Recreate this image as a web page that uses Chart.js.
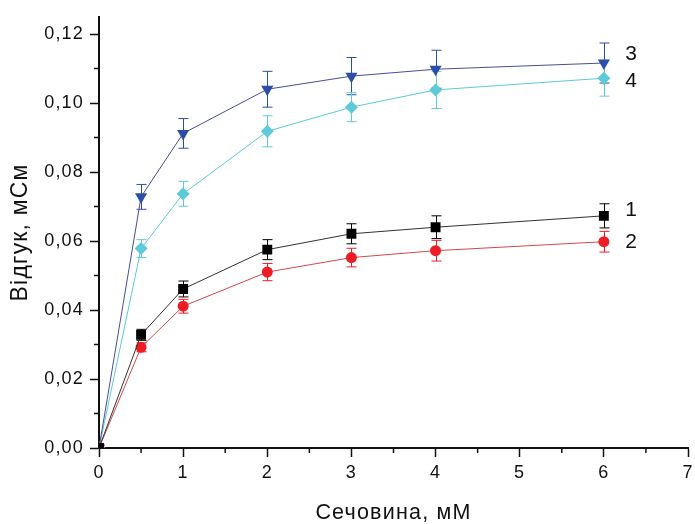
<!DOCTYPE html>
<html>
<head>
<meta charset="utf-8">
<script src="https://cdn.jsdelivr.net/npm/chart.js@4"></script>
<style>
    html, body { margin: 0; padding: 0; background: #fff; overflow: hidden; }
    #wrap { position: relative; width: 695px; height: 524px; }
</style>
</head>
<body>
<div id="wrap"><canvas id="ureaChart"></canvas></div>
<script>
Chart.defaults.font.family = '"Liberation Sans", Arial, sans-serif';
Chart.defaults.color = '#111';

// ── Data ──────────────────────────────────────────────────────────
const conc = [0, 0.5, 1, 2, 3, 4, 6];

const resp1 = [0, 0.0328, 0.0461, 0.0575, 0.0621, 0.0640, 0.0673];
const err1 = [0, 0.0016, 0.0023, 0.0029, 0.0029, 0.0033, 0.0035];
const resp2 = [0, 0.0292, 0.0411, 0.0510, 0.0552, 0.0572, 0.0598];
const err2 = [0, 0.0013, 0.0020, 0.0025, 0.0027, 0.0030, 0.0030];
const resp3 = [0, 0.0728, 0.0912, 0.1040, 0.1078, 0.1098, 0.1116];
const err3 = [0, 0.0036, 0.0043, 0.0052, 0.0054, 0.0055, 0.0058];
const resp4 = [0, 0.0578, 0.0737, 0.0918, 0.0988, 0.1038, 0.1072];
const err4 = [0, 0.0026, 0.0036, 0.0045, 0.0042, 0.0054, 0.0052];

const curveNames = ['1', '2', '3', '4'];
const nameX = [6.33, 6.33, 6.33, 6.33];
const nameY = [0.0688, 0.0596, 0.1142, 0.1062];

const xMajor = [0, 1, 2, 3, 4, 5, 6, 7];
const xMinor = [0.5, 1.5, 2.5, 3.5, 4.5, 5.5, 6.5];
const yMajor = [0, 0.02, 0.04, 0.06, 0.08, 0.10, 0.12];
const yMinor = [0.01, 0.03, 0.05, 0.07, 0.09, 0.11];

const toXY = (vals) => vals.map((v, i) => ({ x: conc[i], y: v }));

const series = (vals, errs, color, lineColor, style, radius, rotation) => ({
    data: toXY(vals),
    errors: errs,
    borderColor: lineColor,
    backgroundColor: color,
    pointBackgroundColor: color,
    pointBorderColor: color,
    pointStyle: style,
    pointRadius: radius,
    pointRotation: rotation || 0,
    pointBorderWidth: 0,
    borderWidth: 1,
    tension: 0,
    fill: false,
});

// ── Error bars, minor ticks, curve numbers ───────────────────────
const extras = {
    id: 'extras',
    beforeDraw(chart) {
        // the labels are set a little wider than plain Arial
        chart.ctx.letterSpacing = '1.2px';
    },
    beforeDatasetsDraw(chart) {
        const ctx = chart.ctx;
        const xs = chart.scales.x, ys = chart.scales.y;
        ctx.save();
        ctx.lineWidth = 1;
        chart.data.datasets.forEach((ds) => {
            ctx.strokeStyle = ds.backgroundColor;
            ds.data.forEach((p, i) => {
                const e = ds.errors[i];
                if (!e) return;
                const px = Math.round(xs.getPixelForValue(p.x)) + 0.5;
                const top = ys.getPixelForValue(p.y + e);
                const bot = ys.getPixelForValue(p.y - e);
                ctx.beginPath();
                ctx.moveTo(px, top); ctx.lineTo(px, bot);
                ctx.moveTo(px - 5, top); ctx.lineTo(px + 5, top);
                ctx.moveTo(px - 5, bot); ctx.lineTo(px + 5, bot);
                ctx.stroke();
            });
        });
        ctx.restore();
    },
    afterDraw(chart) {
        const ctx = chart.ctx;
        const xs = chart.scales.x, ys = chart.scales.y;
        const area = chart.chartArea;
        ctx.save();
        ctx.strokeStyle = '#111';
        ctx.lineWidth = 1.5;
        ctx.beginPath();
        xMinor.forEach((v) => {
            const px = xs.getPixelForValue(v);
            ctx.moveTo(px, area.bottom); ctx.lineTo(px, area.bottom + 5);
        });
        yMinor.forEach((v) => {
            const py = ys.getPixelForValue(v);
            ctx.moveTo(area.left, py); ctx.lineTo(area.left - 5, py);
        });
        ctx.stroke();

        ctx.fillStyle = '#111';
        ctx.font = '21px "Liberation Sans", Arial, sans-serif';
        ctx.textAlign = 'center';
        ctx.textBaseline = 'middle';
        curveNames.forEach((t, i) => {
            ctx.fillText(t, xs.getPixelForValue(nameX[i]), ys.getPixelForValue(nameY[i]));
        });
        ctx.restore();
    }
};

const fmt = (v) => v.toFixed(2).replace('.', ',');

new Chart(document.getElementById('ureaChart'), {
    type: 'line',
    data: {
        datasets: [
            series(resp1, err1, '#000000', '#333333', 'rect', 7),
            series(resp2, err2, '#ee1c25', '#d9464c', 'circle', 5.5),
            series(resp3, err3, '#2d4ea6', '#4a4c9c', 'triangle', 7, 180),
            series(resp4, err4, '#5ccad8', '#5ccad8', 'rectRot', 6.5),
        ]
    },
    options: {
        responsive: true,
        maintainAspectRatio: false,
        animation: false,
        layout: { padding: { top: 15, right: 4, left: 0, bottom: 0 } },
        plugins: { legend: { display: false }, tooltip: { enabled: false } },
        scales: {
            x: {
                type: 'linear',
                min: 0, max: 7,
                afterBuildTicks: (s) => { s.ticks = xMajor.map((v) => ({ value: v })); },
                afterFit: (s) => { s.height = 76; s.paddingRight = 0; s.paddingLeft = 0; },
                grid: { display: true, drawOnChartArea: false, drawTicks: true, tickLength: 9, tickWidth: 1.5, tickColor: '#111' },
                border: { display: true, color: '#111', width: 2 },
                ticks: { font: { size: 18 }, padding: 5, maxRotation: 0, callback: (v) => String(v) },
                title: { display: true, text: 'Сечовина, мМ', font: { size: 21.5, lineHeight: 1 }, padding: { top: 0, bottom: 0 } },
            },
            y: {
                type: 'linear',
                min: 0, max: 0.125,
                afterBuildTicks: (s) => { s.ticks = yMajor.map((v) => ({ value: v })); },
                afterFit: (s) => { s.width = 99; },
                grid: { display: true, drawOnChartArea: false, drawTicks: true, tickLength: 9, tickWidth: 1.5, tickColor: '#111' },
                border: { display: true, color: '#111', width: 2 },
                ticks: { font: { size: 18 }, padding: 6, callback: (v) => fmt(v) },
                title: { display: true, text: 'Відгук, мСм', font: { size: 23, lineHeight: 1 }, padding: { top: 9, bottom: 0 } },
            }
        }
    },
    plugins: [extras],
});
</script>
</body>
</html>
